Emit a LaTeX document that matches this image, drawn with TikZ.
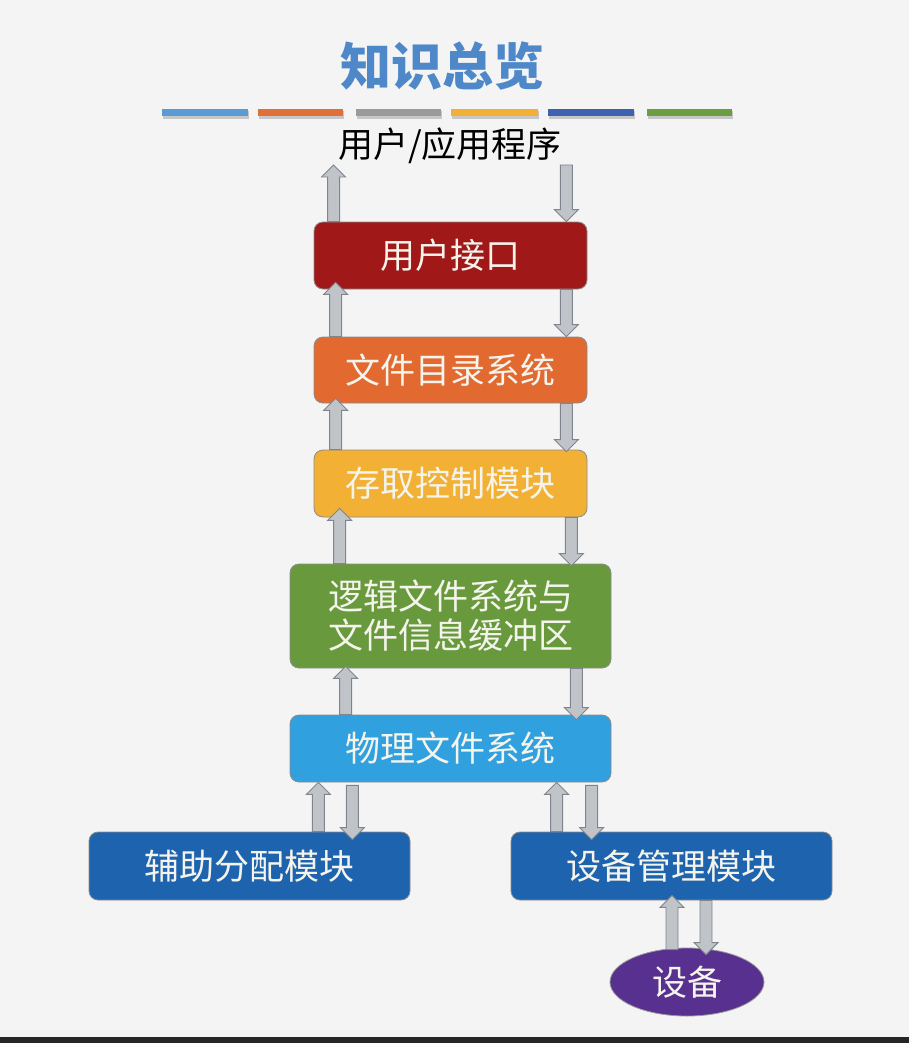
\documentclass[tikz,border=0pt]{standalone}
\usepackage{fontspec}
\setmainfont{Noto Sans CJK SC}
\usetikzlibrary{calc,shapes.geometric}
\definecolor{bgc}{HTML}{F4F4F4}
\definecolor{titlec}{HTML}{4F88C8}
\definecolor{barA}{HTML}{5B9BD5}
\definecolor{barB}{HTML}{E0703A}
\definecolor{barC}{HTML}{9A9A9A}
\definecolor{barD}{HTML}{F2B036}
\definecolor{barE}{HTML}{3E62B0}
\definecolor{barF}{HTML}{6A9E40}
\definecolor{cRed}{HTML}{A01818}
\definecolor{cOrange}{HTML}{E2692F}
\definecolor{cGold}{HTML}{F2B134}
\definecolor{cGreen}{HTML}{689A3D}
\definecolor{cSky}{HTML}{30A0DF}
\definecolor{cBlue}{HTML}{1E63AE}
\definecolor{cPurple}{HTML}{58308F}
\definecolor{arrFill}{HTML}{C0C4C9}
\definecolor{arrLine}{HTML}{7E858E}
\definecolor{txtc}{HTML}{F4F4EC}
\tikzset{
  box/.style={draw=black!45, line width=0.8pt, rounded corners=9pt, inner sep=0pt,
    text=txtc, font=\fontsize{35}{40}\selectfont, align=center},
  barrowst/.style={fill=arrFill, draw=arrLine, line width=0.9pt, line join=miter},
}
\newcommand\barrow[3]{%
  \draw[barrowst] let \p1=#1, \p2=#2, \p3=#3, \n1={sign(\y3-\y2)*12} in
    (\x1-6pt,\y2) -- (\x1-6pt,{\y3-(\n1)*1pt}) -- (\x1-12pt,{\y3-(\n1)*1pt}) --
    (\x1,\y3) -- (\x1+12pt,{\y3-(\n1)*1pt}) -- (\x1+6pt,{\y3-(\n1)*1pt}) --
    (\x1+6pt,\y2) -- cycle;}
\begin{document}
\begin{tikzpicture}[x=1pt,y=-1pt]
\fill[bgc] (0,0) rectangle (909,1043);
\useasboundingbox (0,0) rectangle (909,1043);
\fill[black!85] (0,1037) rectangle (909,1043);
% title
\node[text=titlec, font=\fontsize{51}{60}\selectfont\bfseries] (title) at (442,66) {知识总览};
% colour bars
\foreach \a/\b/\c in {162/248/barA,258/343/barB,356/441/barC,451/538/barD,548/634/barE,647/732/barF}{
  \fill[black!22] (\a+1,111) rectangle (\b+1,119);
  \fill[\c] (\a,109.5) rectangle (\b,116.5);
}
% user / application
\node[anchor=base, inner sep=0pt, font=\fontsize{35}{40}\selectfont] (app) at (450,158) {用户/应用程序};
\coordinate (appb) at ([yshift=-7pt]app.base);
% boxes
\node[box, fill=cRed, minimum width=273pt, minimum height=67pt] (b1) at (450.5,255.5) {用户接口};
\node[box, fill=cOrange, minimum width=273pt, minimum height=66pt] (b2) at (450.5,370) {文件目录系统};
\node[box, fill=cGold, minimum width=273pt, minimum height=67pt] (b3) at (450.5,483.5) {存取控制模块};
\node[box, fill=cGreen, minimum width=321pt, minimum height=104pt, font=\fontsize{35}{39}\selectfont] (b4) at (450.5,616) {逻辑文件系统与\\文件信息缓冲区};
\node[box, fill=cSky, minimum width=321pt, minimum height=67pt] (b5) at (450.5,748.5) {物理文件系统};
\node[box, fill=cBlue, minimum width=321pt, minimum height=68pt] (b6) at (249.5,866) {辅助分配模块};
\node[box, fill=cBlue, minimum width=321pt, minimum height=68pt] (b7) at (671.5,866) {设备管理模块};
\node[ellipse, draw=black!40, line width=0.8pt, fill=cPurple, text=txtc, inner sep=0pt,
  minimum width=154pt, minimum height=68pt, font=\fontsize{35}{40}\selectfont] (dev) at (687,982) {设备};
% arrows
\barrow{([xshift=20pt]b1.north west)}{(b1.north)}{(appb)}
\barrow{([xshift=-21pt]b1.north east)}{(appb)}{(b1.north)}
\barrow{([xshift=22pt]b2.north west)}{(b2.north)}{([yshift=7pt]b1.south)}
\barrow{([xshift=-21pt]b2.north east)}{(b1.south)}{(b2.north)}
\barrow{([xshift=22pt]b3.north west)}{(b3.north)}{([yshift=5pt]b2.south)}
\barrow{([xshift=-21pt]b3.north east)}{(b2.south)}{([yshift=-2pt]b3.north)}
\barrow{([xshift=50pt]b4.north west)}{(b4.north)}{([yshift=9pt]b3.south)}
\barrow{([xshift=-40pt]b4.north east)}{(b3.south)}{([yshift=-2pt]b4.north)}
\barrow{([xshift=56pt]b5.north west)}{(b5.north)}{([yshift=2pt]b4.south)}
\barrow{([xshift=-35pt]b5.north east)}{(b4.south)}{([yshift=-5pt]b5.north)}
\barrow{([xshift=-92pt]b6.north east)}{(b6.north)}{(b5.south)}
\barrow{([xshift=-58pt]b6.north east)}{([yshift=-3pt]b5.south)}{([yshift=-8pt]b6.north)}
\barrow{([xshift=46pt]b7.north west)}{(b7.north)}{(b5.south)}
\barrow{([xshift=81pt]b7.north west)}{([yshift=-3pt]b5.south)}{([yshift=-8pt]b7.north)}
\barrow{([xshift=-15pt]dev.north)}{([yshift=-2pt]dev.north)}{([yshift=5pt]b7.south)}
\barrow{([xshift=19pt]dev.north)}{(b7.south)}{([yshift=-7pt]dev.north)}
\end{tikzpicture}
\end{document}
